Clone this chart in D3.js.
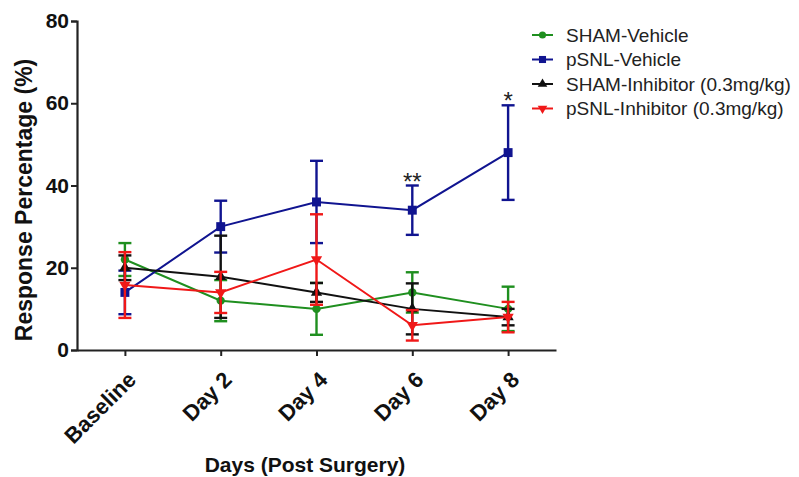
<!DOCTYPE html>
<html>
<head>
<meta charset="utf-8">
<script src="https://cdn.jsdelivr.net/npm/d3@7"></script>
<style>
  body { margin: 0; background: #fff; }
  svg { font-family: Arial, "Liberation Sans", sans-serif; }
</style>
</head>
<body>
<svg id="chart" width="799" height="477"></svg>
<script>
// Data
const days = ["Baseline", "Day 2", "Day 4", "Day 6", "Day 8"];
const yTicks = [0, 20, 40, 60, 80];

const shamVehicle = [22, 12, 10, 14, 10];
const shamVehicleErr = [4, 5, 6.3, 4.9, 5.4];
const psnlVehicle = [14, 30, 36, 34, 48];
const psnlVehicleErr = [5.3, 6.3, 10, 6, 11.5];
const shamInhib = [20, 17.8, 14, 10, 8];
const shamInhibErr = [3, 10, 2.3, 6.2, 2];
const psnlInhib = [15.8, 14, 22, 6, 8];
const psnlInhibErr = [8, 5, 11, 3.7, 3.7];

const series = [
  { name: "SHAM-Vehicle", values: shamVehicle, err: shamVehicleErr, color: "#1f8f1f", symbol: d3.symbolCircle },
  { name: "pSNL-Vehicle", values: psnlVehicle, err: psnlVehicleErr, color: "#101490", symbol: d3.symbolSquare },
  { name: "SHAM-Inhibitor (0.3mg/kg)", values: shamInhib, err: shamInhibErr, color: "#111111", symbol: d3.symbolTriangle },
  { name: "pSNL-Inhibitor (0.3mg/kg)", values: psnlInhib, err: psnlInhibErr, color: "#f01818", symbol: "down" }
];

// significance marks above pSNL-Vehicle
const stars = [{ day: "Day 6", label: "**" }, { day: "Day 8", label: "*" }];

const svg = d3.select("#chart");
const mLeft = 77, mRight = 556, mTop = 21, mBottom = 350;

const x = d3.scalePoint().domain(days).range([mLeft, mRight]).padding(0.5);
const y = d3.scaleLinear().domain([0, 80]).range([mBottom, mTop]);

const axisColor = "#222";

// Y axis
const yAxis = svg.append("g")
  .attr("transform", `translate(${mLeft},0)`)
  .call(d3.axisLeft(y).tickValues(yTicks).tickSize(6).tickPadding(2));
yAxis.select(".domain").attr("stroke", axisColor).attr("stroke-width", 2.2);
yAxis.selectAll(".tick line").attr("stroke", axisColor).attr("stroke-width", 2);
yAxis.selectAll("text").attr("font-size", 21).attr("font-weight", "bold").attr("fill", "#111");

// X axis
const xAxis = svg.append("g")
  .attr("transform", `translate(0,${mBottom})`)
  .call(d3.axisBottom(x).tickSize(6).tickSizeOuter(0));
xAxis.select(".domain").attr("stroke", axisColor).attr("stroke-width", 2.2);
xAxis.selectAll(".tick line").attr("stroke", axisColor).attr("stroke-width", 2);
xAxis.selectAll("text")
  .attr("font-size", 22).attr("font-weight", "bold").attr("fill", "#111")
  .attr("text-anchor", "end")
  .attr("transform", "translate(12,31) rotate(-45)")
  .attr("dy", 0).attr("y", 0);

// Axis titles
svg.append("text")
  .attr("transform", "translate(32,200) rotate(-90)")
  .attr("text-anchor", "middle")
  .attr("font-size", 23).attr("font-weight", "bold").attr("fill", "#111")
  .text("Response Percentage (%)");

svg.append("text")
  .attr("x", 305).attr("y", 472)
  .attr("text-anchor", "middle")
  .attr("font-size", 21).attr("font-weight", "bold").attr("fill", "#111")
  .text("Days (Post Surgery)");

function marker(sym, size) {
  if (sym === "down") {
    return "M" + d3.symbol(d3.symbolTriangle, size)().slice(1)
      .replace(/(-?[\d.]+),(-?[\d.]+)/g, (m, a, b) => `${a},${-b}`);
  }
  return d3.symbol(sym, size)();
}

const line = d3.line().x((d, i) => x(days[i])).y(d => y(d));

series.forEach(s => {
  const g = svg.append("g");
  // error bars
  s.values.forEach((v, i) => {
    const cx = x(days[i]);
    const hi = y(v + s.err[i]), lo = y(v - s.err[i]);
    g.append("line").attr("x1", cx).attr("x2", cx).attr("y1", hi).attr("y2", lo)
      .attr("stroke", s.color).attr("stroke-width", 2.4);
    [hi, lo].forEach(yy => g.append("line")
      .attr("x1", cx - 6.5).attr("x2", cx + 6.5).attr("y1", yy).attr("y2", yy)
      .attr("stroke", s.color).attr("stroke-width", 2.4));
  });
  g.append("path").datum(s.values)
    .attr("d", line).attr("fill", "none")
    .attr("stroke", s.color).attr("stroke-width", 2);
  g.selectAll("path.pt").data(s.values).join("path")
    .attr("class", "pt")
    .attr("transform", (d, i) => `translate(${x(days[i])},${y(d)})`)
    .attr("d", marker(s.symbol, s.symbol === d3.symbolSquare ? 80 : 55))
    .attr("fill", s.color);
});

// significance stars
stars.forEach(st => {
  const i = days.indexOf(st.day);
  svg.append("text")
    .attr("x", x(st.day)).attr("y", y(psnlVehicle[i] + psnlVehicleErr[i]) + 4)
    .attr("text-anchor", "middle")
    .attr("font-size", 24).attr("fill", "#222")
    .text(st.label);
});

// Legend
const legend = svg.append("g").attr("transform", "translate(532,35)");
series.forEach((s, i) => {
  const row = legend.append("g").attr("transform", `translate(0,${i * 24.5})`);
  row.append("line").attr("x1", 0).attr("x2", 21).attr("stroke", s.color).attr("stroke-width", 2);
  row.append("path").attr("transform", "translate(10.5,0)")
    .attr("d", marker(s.symbol, s.symbol === d3.symbolSquare ? 50 : 40))
    .attr("fill", s.color);
  row.append("text").attr("x", 34).attr("y", 0).attr("dy", "0.35em")
    .attr("font-size", 19).attr("fill", "#222").text(s.name);
});
</script>
</body>
</html>
